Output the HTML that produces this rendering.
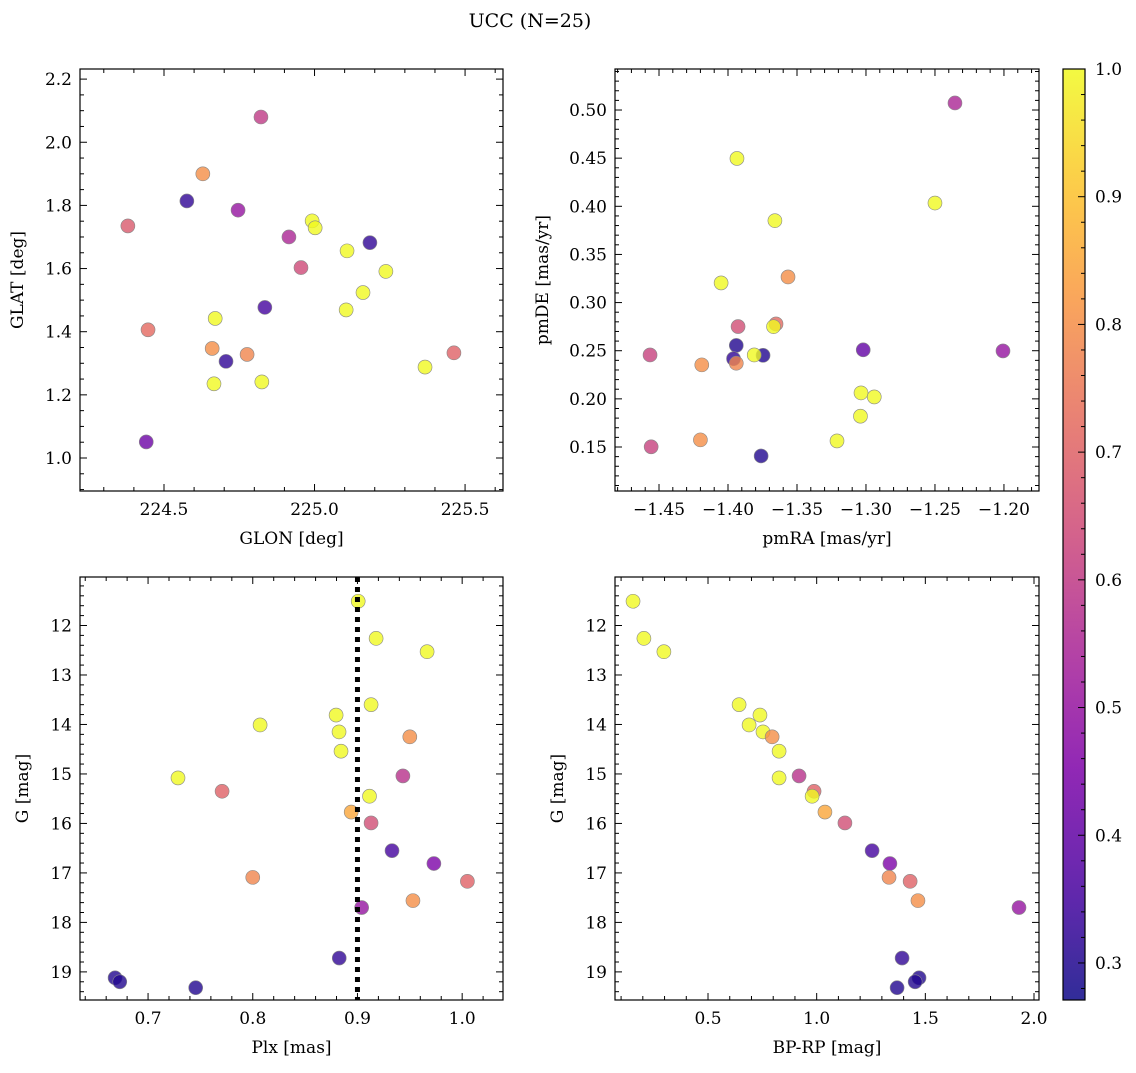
<!DOCTYPE html>
<html><head><meta charset="utf-8">
<style>
body{margin:0;background:#fff;}
svg text{font-family:"DejaVu Serif","Liberation Serif",serif;fill:#000;}
</style></head>
<body>
<svg id="fig" width="1136" height="1068" xmlns="http://www.w3.org/2000/svg">
<text x="530" y="27" font-size="19" text-anchor="middle">UCC (N=25)</text>
</svg>
<script>
// Panel 1: GLON vs GLAT
const glon=[224.822,224.629,224.576,224.746,224.380,224.992,225.002,224.915,225.108,225.184,224.955,225.237,225.161,225.105,224.835,224.670,224.447,224.660,224.776,224.706,225.463,225.367,224.666,224.825,224.441];
const glat=[2.080,1.900,1.814,1.785,1.735,1.751,1.729,1.700,1.656,1.682,1.603,1.591,1.524,1.469,1.477,1.442,1.406,1.347,1.328,1.306,1.333,1.288,1.235,1.241,1.051];
const probA=[0.60,0.80,0.32,0.50,0.68,1.0,1.0,0.55,1.0,0.32,0.64,1.0,1.0,1.0,0.35,1.0,0.72,0.80,0.78,0.32,0.70,1.0,1.0,1.0,0.42];
// Panel 2: pmRA vs pmDE
const pmra=[-1.2355,-1.3935,-1.2500,-1.366,-1.3565,-1.405,-1.3927,-1.3652,-1.367,-1.394,-1.396,-1.3746,-1.381,-1.302,-1.2007,-1.4565,-1.419,-1.394,-1.3036,-1.294,-1.304,-1.321,-1.420,-1.4557,-1.376];
const pmde=[0.5073,0.4497,0.4034,0.3851,0.3266,0.3204,0.2751,0.2778,0.275,0.2555,0.2417,0.2452,0.2456,0.2509,0.2498,0.2456,0.2353,0.237,0.2062,0.202,0.182,0.1563,0.1574,0.1502,0.1407];
const probB=[0.55,1.0,1.0,1.0,0.80,1.0,0.65,0.72,1.0,0.30,0.32,0.30,1.0,0.40,0.50,0.62,0.80,0.78,1.0,1.0,1.0,1.0,0.80,0.62,0.30];
// Panel 3 & 4: Plx, BP-RP vs G
const plx=[0.9007,0.9178,0.9665,0.9130,0.8796,0.8070,0.8824,0.8843,0.950,0.7286,0.9434,0.7707,0.9115,0.894,0.913,0.933,0.973,0.800,1.005,0.953,0.904,0.8826,0.6685,0.673,0.7455];
const gPlx=[11.51,12.26,12.53,13.60,13.81,14.01,14.15,14.54,14.25,15.08,15.04,15.35,15.45,15.77,15.99,16.55,16.81,17.09,17.17,17.56,17.70,18.72,19.12,19.20,19.32];
const probC=[1.0,1.0,1.0,1.0,1.0,1.0,1.0,1.0,0.80,1.0,0.58,0.70,1.0,0.85,0.65,0.35,0.45,0.78,0.70,0.80,0.50,0.32,0.30,0.30,0.30];
const bprp=[0.155,0.205,0.297,0.643,0.739,0.689,0.753,0.827,0.795,0.827,0.919,0.988,0.979,1.038,1.130,1.255,1.337,1.333,1.430,1.466,1.931,1.393,1.471,1.453,1.370];
const plxLine=0.9;
const cbMin=0.271, cbMax=1.0;
const cbTicks=[0.3,0.4,0.5,0.6,0.7,0.8,0.9,1.0];

const NS="http://www.w3.org/2000/svg";
const svg=document.getElementById('fig');
function el(tag,attrs,parent){const e=document.createElementNS(NS,tag);for(const k in attrs)e.setAttribute(k,attrs[k]);(parent||svg).appendChild(e);return e;}
const stops=["#0d0887","#4c02a1","#7e03a8","#a82296","#cc4778","#e56b5d","#f89540","#fdc328","#f0f921"];
function hex(h){return [1,3,5].map(i=>parseInt(h.substr(i,2),16));}
function plasma(t){t=Math.max(0,Math.min(1,t));const p=t*(stops.length-1);const i=Math.min(Math.floor(p),stops.length-2);const f=p-i;const a=hex(stops[i]),b=hex(stops[i+1]);return "rgb("+a.map((v,j)=>Math.round(v+(b[j]-v)*f)).join(",")+")";}
function cmap(v){return plasma((v-cbMin)/(cbMax-cbMin));}
function fmt(v,d){let s=v.toFixed(d);if(v<0)s="\u2212"+s.slice(1);return s;}

function panel(o){
  const g=el('g',{});
  
  
  const X=v=>o.x0+(v-o.xmin)/(o.xmax-o.xmin)*(o.x1-o.x0);
  const Y=o.yinv? v=>o.y0+(v-o.ymin)/(o.ymax-o.ymin)*(o.y1-o.y0) : v=>o.y1-(v-o.ymin)/(o.ymax-o.ymin)*(o.y1-o.y0);
  for(let i=0;i<o.xs.length;i++){
    const c=el('circle',{cx:X(o.xs[i]),cy:Y(o.ys[i]),r:7,fill:cmap(o.c[i]),'fill-opacity':0.8,stroke:'#888','stroke-width':0.6},g);
    
    
  }
  if(o.vline!==undefined){const l=el('line',{x1:X(o.vline),x2:X(o.vline),y1:o.y0,y2:o.y1,stroke:'#000','stroke-width':5,'stroke-dasharray':'5,5'},g);
    
    }
  const fr=el('rect',{x:o.x0,y:o.y0,width:o.x1-o.x0,height:o.y1-o.y0,fill:'none',stroke:'#000','stroke-width':1.2},g);
  
  
  const eps=1e-9;
  for(let k=Math.ceil(o.xmin/o.xminor-eps);k*o.xminor<=o.xmax+eps;k++){
    const v=k*o.xminor,px=X(v);const maj=Math.abs(v/o.xmajor-Math.round(v/o.xmajor))<1e-6;const L=maj?7:4;
    el('line',{x1:px,x2:px,y1:o.y1,y2:o.y1-L,stroke:'#000','stroke-width':1},g);
    el('line',{x1:px,x2:px,y1:o.y0,y2:o.y0+L,stroke:'#000','stroke-width':1},g);
    if(maj){const t=el('text',{x:px,y:o.y1+24,'font-size':17,'text-anchor':'middle'},g);t.textContent=fmt(v,o.xd);
      
      }
  }
  for(let k=Math.ceil(o.ymin/o.yminor-eps);k*o.yminor<=o.ymax+eps;k++){
    const v=k*o.yminor,py=Y(v);const maj=Math.abs(v/o.ymajor-Math.round(v/o.ymajor))<1e-6;const L=maj?7:4;
    el('line',{x1:o.x0,x2:o.x0+L,y1:py,y2:py,stroke:'#000','stroke-width':1},g);
    el('line',{x1:o.x1,x2:o.x1-L,y1:py,y2:py,stroke:'#000','stroke-width':1},g);
    if(maj){const t=el('text',{x:o.x0-8,y:py+6,'font-size':17,'text-anchor':'end'},g);t.textContent=fmt(v,o.yd);
      
      }
  }
  const xl=el('text',{x:(o.x0+o.x1)/2,y:o.y1+53,'font-size':17,'text-anchor':'middle'},g);xl.textContent=o.xlabel;
  
  
  const yx=o.x0-o.ylabOff,yy=(o.y0+o.y1)/2;
  const yl=el('text',{x:yx,y:yy,'font-size':17,'text-anchor':'middle',transform:`rotate(-90 ${yx} ${yy})`},g);yl.textContent=o.ylabel;
  
  
}
panel({name:'glon-glat-panel',x0:80,x1:503,y0:69,y1:491,xmin:224.221,xmax:225.626,ymin:0.8955,ymax:2.232,xmajor:0.5,xminor:0.1,ymajor:0.2,yminor:0.05,xd:1,yd:1,xs:glon,ys:glat,c:probA,xlabel:'GLON [deg]',ylabel:'GLAT [deg]',ylabOff:57});
panel({name:'pm-panel',x0:615,x1:1039,y0:69,y1:491,xmin:-1.4819,xmax:-1.1746,ymin:0.1043,ymax:0.5426,xmajor:0.05,xminor:0.01,ymajor:0.05,yminor:0.01,xd:2,yd:2,xs:pmra,ys:pmde,c:probB,xlabel:'pmRA [mas/yr]',ylabel:'pmDE [mas/yr]',ylabOff:67});
panel({name:'plx-g-panel',x0:80,x1:503,y0:577,y1:1000,xmin:0.635,xmax:1.039,ymin:11.02,ymax:19.568,yinv:true,xmajor:0.1,xminor:0.02,ymajor:1,yminor:0.2,xd:1,yd:0,xs:plx,ys:gPlx,c:probC,xlabel:'Plx [mas]',ylabel:'G [mag]',ylabOff:52,vline:plxLine});
panel({name:'cmd-panel',x0:615,x1:1039,y0:577,y1:1000,xmin:0.072,xmax:2.023,ymin:11.02,ymax:19.568,yinv:true,xmajor:0.5,xminor:0.1,ymajor:1,yminor:0.2,xd:1,yd:0,xs:bprp,ys:gPlx,c:probC,xlabel:'BP-RP [mag]',ylabel:'G [mag]',ylabOff:52});

const cb=el('g',{});


const defs=el('defs',{},cb);
const lg=el('linearGradient',{id:'cbg',x1:0,y1:1,x2:0,y2:0},defs);
for(let i=0;i<=20;i++){const t=i/20;el('stop',{offset:t,'stop-color':cmap(cbMin+t*(cbMax-cbMin))},lg);}
const cx0=1063,cx1=1085,cy0=69,cy1=1000;
el('rect',{x:cx0,y:cy0,width:cx1-cx0,height:cy1-cy0,fill:'url(#cbg)','fill-opacity':0.85,stroke:'#000','stroke-width':1.2},cb);
const CY=v=>cy1-(v-cbMin)/(cbMax-cbMin)*(cy1-cy0);
for(let k=Math.ceil(cbMin/0.02);k*0.02<=cbMax+1e-9;k++){const v=k*0.02;const maj=Math.abs(v*10-Math.round(v*10))<1e-6;
  el('line',{x1:cx1,x2:cx1-(maj?7:4),y1:CY(v),y2:CY(v),stroke:'#000','stroke-width':1},cb);}
cbTicks.forEach(v=>{const t=el('text',{x:cx1+10,y:CY(v)+6,'font-size':17},cb);t.textContent=v.toFixed(1);
  
  });
</script>
</body></html>
